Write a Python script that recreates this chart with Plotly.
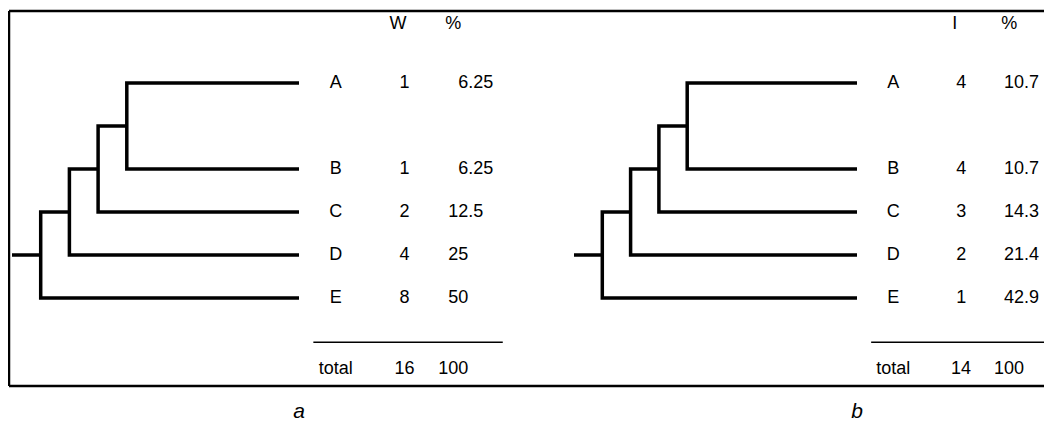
import plotly.graph_objects as go

# ---------------- data ----------------
leaves = ["A", "B", "C", "D", "E"]
panel_labels = ["a", "b"]
count_headers = ["W", "I"]
counts_a = [1, 1, 2, 4, 8]
pct_a = ["6.25", "6.25", "12.5", "25", "50"]
total_a = ["16", "100"]
counts_b = [4, 4, 3, 2, 1]
pct_b = ["10.7", "10.7", "14.3", "21.4", "42.9"]
total_b = ["14", "100"]
total_label = "total"
pct_header = "%"

# ---------------- layout constants ----------------
OFF = 8                      # browser body margin
W, H = 1052 - OFF, 427 - OFF
LEAF_X = 10.0                # depth at which leaves end
COL_LETTER = 11.28
COL_COUNT = 13.68
COL_HEAD = 13.45
COL_PCT = 15.1
COL_DEC = 15.9               # decimal-point alignment column
ROW_HEADER = 6.35
ROW_RULE = -1.03
ROW_TOTAL = -1.67
ROW_LABEL = -2.67
ROW_PX0, ROW_STEP = 298 - OFF, 43.0   # pixel of row 0 and pixels per row
Y_RANGE = [(ROW_PX0 - H) / ROW_STEP, ROW_PX0 / ROW_STEP]
FONT = "Arial, Liberation Sans, sans-serif"
FS = 18

panels = [
    dict(xa="x", x0=12.0 - OFF, step=28.7, dom=[0.0, 0.5], counts=counts_a, pct=pct_a,
         total=total_a, header=count_headers[0], label=panel_labels[0]),
    dict(xa="x2", x0=574.0 - OFF, step=28.3, dom=[0.5, 1.0], counts=counts_b, pct=pct_b,
         total=total_b, header=count_headers[1], label=panel_labels[1]),
]

n = len(leaves)
rows = list(range(n - 1, -1, -1))
rows[0] += 1  # extra gap above the first pair

fig = go.Figure()


def text_trace(xa, xs, ys, texts, pos, font):
    return go.Scatter(x=xs, y=ys, text=texts, mode="text", textposition=pos, textfont=font,
                      xaxis=xa, yaxis="y", showlegend=False, hoverinfo="skip")


for p in panels:
    xa = p["xa"]
    # --- caterpillar tree ((((A,B),C),D),E) ---
    xs, ys = [], []
    cl_x, cl_y = LEAF_X, rows[0]
    for k in range(1, n):
        d = n - k  # node depth
        xs += [cl_x, d, d, LEAF_X, None]
        ys += [cl_y, cl_y, rows[k], rows[k], None]
        cl_x, cl_y = d, (cl_y + rows[k]) / 2
    xs += [0, cl_x]
    ys += [cl_y, cl_y]
    fig.add_trace(go.Scatter(x=xs, y=ys, mode="lines", xaxis=xa, yaxis="y",
                             line=dict(color="black", width=3.5), hoverinfo="skip",
                             showlegend=False))
    # --- rule above total ---
    fig.add_trace(go.Scatter(x=[LEAF_X + 0.5, 17.1], y=[ROW_RULE, ROW_RULE], mode="lines",
                             xaxis=xa, yaxis="y", line=dict(color="black", width=1.5),
                             hoverinfo="skip", showlegend=False))
    tf = dict(family=FONT, size=FS, color="black")
    # leaf letters and "total"
    fig.add_trace(text_trace(xa, [COL_LETTER] * (n + 1), rows + [ROW_TOTAL],
                             leaves + [total_label], "middle center", tf))
    # count header
    fig.add_trace(text_trace(xa, [COL_HEAD], [ROW_HEADER], [p["header"]], "middle center", tf))
    # counts and total
    fig.add_trace(text_trace(xa, [COL_COUNT] * (n + 1), rows + [ROW_TOTAL],
                             [str(c) for c in p["counts"]] + [p["total"][0]],
                             "middle center", tf))
    # percent header
    fig.add_trace(text_trace(xa, [COL_PCT], [ROW_HEADER], [pct_header], "middle right", tf))
    # percentages aligned on the decimal point
    vals = p["pct"] + [p["total"][1]]
    ints = [v.split(".")[0] for v in vals]
    fracs = [("." + v.split(".")[1]) if "." in v else "" for v in vals]
    fig.add_trace(text_trace(xa, [COL_DEC] * (n + 1), rows + [ROW_TOTAL], ints,
                             "middle left", tf))
    fig.add_trace(text_trace(xa, [COL_DEC] * (n + 1), rows + [ROW_TOTAL], fracs,
                             "middle right", tf))
    # panel label
    fig.add_trace(text_trace(xa, [LEAF_X], [ROW_LABEL], [f"<i>{p['label']}</i>"],
                             "middle center", dict(family=FONT, size=21, color="black")))

axis_common = dict(showgrid=False, zeroline=False, showticklabels=False, ticks="",
                   showline=False, fixedrange=True)
p0, p1 = panels
fig.update_layout(
    width=W, height=H,
    margin=dict(l=0, r=0, t=0, b=0),
    paper_bgcolor="white", plot_bgcolor="white",
    xaxis=dict(domain=p0["dom"],
               range=[(p0["dom"][0] * W - p0["x0"]) / p0["step"],
                      (p0["dom"][1] * W - p0["x0"]) / p0["step"]], **axis_common),
    xaxis2=dict(domain=p1["dom"], anchor="y",
                range=[(p1["dom"][0] * W - p1["x0"]) / p1["step"],
                       (p1["dom"][1] * W - p1["x0"]) / p1["step"]], **axis_common),
    yaxis=dict(domain=[0, 1], range=Y_RANGE, **axis_common),
    shapes=[
        dict(type="line", xref="paper", yref="paper", x0=(9 - OFF) / W, x1=(9 - OFF) / W,
             y0=1 - (11 - OFF) / H, y1=1 - (386 - OFF) / H, line=dict(color="black", width=2.5)),
        dict(type="line", xref="paper", yref="paper", x0=(9 - OFF) / W, x1=1,
             y0=1 - (11 - OFF) / H, y1=1 - (11 - OFF) / H, line=dict(color="black", width=2.5)),
        dict(type="line", xref="paper", yref="paper", x0=(9 - OFF) / W, x1=1,
             y0=1 - (386 - OFF) / H, y1=1 - (386 - OFF) / H, line=dict(color="black", width=2.5)),
    ],
)

fig.write_html("out.html")
